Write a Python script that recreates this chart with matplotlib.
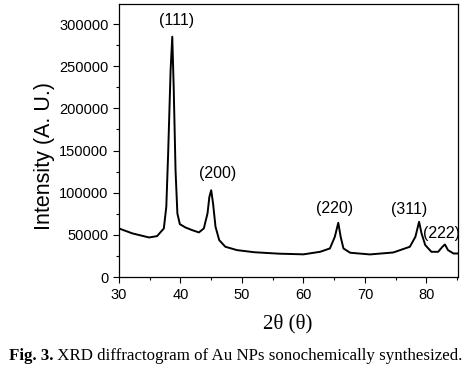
import matplotlib

matplotlib.use("Agg")

import matplotlib.pyplot as plt
from matplotlib.ticker import MultipleLocator

two_theta = [30.0, 32.2, 34.9, 36.2, 37.3, 37.7, 38.0, 38.4, 38.67, 38.9, 39.2, 39.5,
             39.9, 40.8, 41.9, 43.0, 43.8, 44.4, 44.7, 45.0, 45.3, 45.7, 46.3, 47.3,
             49.2, 52.0, 56.0, 60.0, 62.7, 64.3, 65.1, 65.66, 66.05, 66.5, 67.6, 70.8,
             74.6, 77.3, 78.2, 78.8, 79.2, 79.8, 80.8, 81.9, 82.6, 83.0, 83.5, 84.4,
             85.1]
intensity = [57700, 51800, 47000, 48600, 57700, 83400, 146700, 245500, 285000, 225700,
             126900, 75500, 62800, 58900, 55700, 53000, 57700, 75500, 95000, 103000,
             87400, 59700, 43900, 36000, 32000, 29500, 27800, 27000, 30000, 34000,
             47800, 64400, 47800, 34000, 28900, 26900, 29200, 36000, 47800, 65600,
             51800, 38000, 30000, 30000, 36000, 38700, 32000, 28000, 28000]

peak_labels = ["(111)", "(200)", "(220)", "(311)", "(222)"]
peak_label_x = [39.4, 46.0, 65.1, 77.2, 82.4]
peak_label_y = [304700, 122700, 81100, 80000, 51500]

fig = plt.figure(figsize=(4.72, 3.69), dpi=100)
ax = fig.add_axes([0.252, 0.249, 0.718, 0.740])

ax.plot(two_theta, intensity, color="black", linewidth=1.4, solid_joinstyle="round")

for label, x, y in zip(peak_labels, peak_label_x, peak_label_y):
    ax.text(x, y, label, ha="center", va="center", fontsize=11.5, family="Liberation Sans")

ax.set_xlim(30, 85.1)
ax.set_ylim(0, 323700)
ax.xaxis.set_major_locator(MultipleLocator(10))
ax.xaxis.set_minor_locator(MultipleLocator(5))
ax.yaxis.set_major_locator(MultipleLocator(50000))
ax.yaxis.set_minor_locator(MultipleLocator(25000))
ax.tick_params(which="major", direction="out", length=4, width=0.8, labelsize=10.5)
ax.tick_params(which="minor", direction="out", length=2.5, width=0.8)
for lbl in ax.get_xticklabels() + ax.get_yticklabels():
    lbl.set_family("Liberation Sans")
for spine in ax.spines.values():
    spine.set_linewidth(0.9)

fig.text(0.095, 0.577, "Intensity (A. U.)", rotation=90, ha="center", va="center",
         fontsize=15.5, family="Liberation Sans")
fig.text(0.61, 0.122, "2θ (θ)", ha="center", va="center", fontsize=15,
         family="Liberation Serif")

# caption: bold figure number followed by regular text
t1 = fig.text(0.019, 0.025, "Fig. 3.", ha="left", va="baseline", fontsize=12.2,
              fontweight="bold", family="Liberation Serif")
ax.annotate(" XRD diffractogram of Au NPs sonochemically synthesized.",
            xy=(1, 0), xycoords=t1, va="bottom", ha="left", fontsize=12.2,
            family="Liberation Serif", annotation_clip=False)

fig.savefig("out.png", dpi=100)
